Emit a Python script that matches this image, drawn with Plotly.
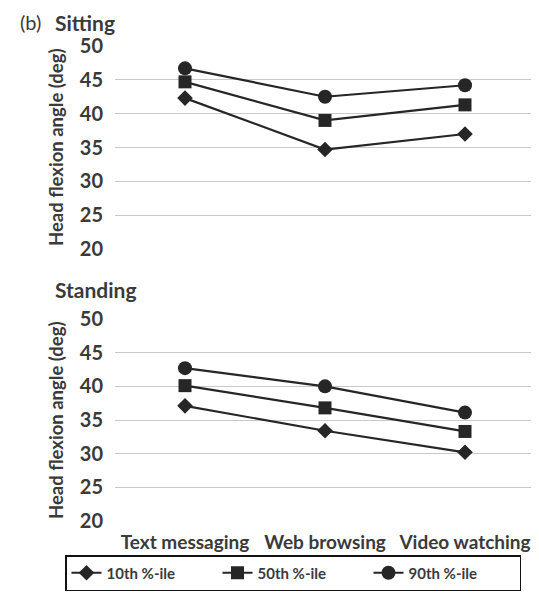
import plotly.graph_objects as go

categories = ["Text messaging", "Web browsing", "Video watching"]
series_names = ["10th %-ile", "50th %-ile", "90th %-ile"]
sitting_10 = [42.3, 34.7, 37.0]
sitting_50 = [44.7, 39.0, 41.3]
sitting_90 = [46.7, 42.5, 44.2]
standing_10 = [37.1, 33.4, 30.2]
standing_50 = [40.1, 36.8, 33.3]
standing_90 = [42.7, 40.0, 36.1]
y_ticks = [20, 25, 30, 35, 40, 45, 50]

symbols = ["diamond", "square", "circle"]
sizes = [12, 13, 14]
FONT = "Lato"
INK = "#262626"
TXT = "#3a3a3a"

# page body has an 8px margin: figure is drawn 8px right/down of the window corner
W, HT = 531, 584
OFF = 8
L, R = 115 - OFF, 4
PW = W - L - R
LEG_TOP = 555  # window px
H = LEG_TOP - OFF  # paper bottom (figure px); legend sits below it

def fx(xp):  # window pixel -> paper x
    return (xp - OFF - L) / PW
def fy(yp):  # window pixel -> paper y
    return (H - (yp - OFF)) / H

fig = go.Figure()
for panel, data in (("y", [sitting_10, sitting_50, sitting_90]),
                    ("y2", [standing_10, standing_50, standing_90])):
    for name, vals, sym, sz in zip(series_names, data, symbols, sizes):
        fig.add_trace(go.Scatter(
            x=categories, y=vals, name=name, mode="lines+markers",
            xaxis="x" if panel == "y" else "x2", yaxis=panel,
            line=dict(color=INK, width=2.2),
            marker=dict(symbol=sym, size=sz, color=INK),
            showlegend=(panel == "y2"),
        ))

yax = dict(range=[20, 50], tickvals=y_ticks, showgrid=True, gridcolor="#c9c9c9",
           gridwidth=1.3, zeroline=False, showline=False, ticks="",
           tickfont=dict(family=FONT, size=20, color=TXT, weight="bold"),
           ticklabelstandoff=11, fixedrange=True)
xax = dict(type="category", range=[-0.5, 2.5], showgrid=False, zeroline=False,
           showline=False, ticks="",
           tickfont=dict(family=FONT, size=19, color=TXT, weight="bold"))

fig.update_layout(
    width=W, height=HT,
    margin=dict(l=L, r=R, t=0, b=HT - H, autoexpand=False),
    paper_bgcolor="white", plot_bgcolor="white",
    yaxis=dict(domain=[fy(249), fy(46)], **yax),
    yaxis2=dict(domain=[fy(521), fy(319)], **yax),
    xaxis=dict(anchor="y", showticklabels=False, **xax),
    xaxis2=dict(anchor="y2", showticklabels=True, ticklabelstandoff=8, **xax),
    legend=dict(orientation="h", x=fx(65), xanchor="left", y=0, yanchor="top",
                bordercolor="#111111", borderwidth=1.5,
                entrywidth=106, entrywidthmode="pixels",
                font=dict(family=FONT, size=15, color=TXT, weight="bold"),
                traceorder="normal"),
    showlegend=True,
)

ann_font = dict(family=FONT, color=TXT)
specs = [
    ("(b)", 30, 8, "center", "top", 0, 20),
    ("<b>Sitting</b>", 53, 8, "left", "top", 0, 21),
    ("<b>Standing</b>", 53, 290, "left", "middle", 0, 21),
    ("<b>Head flexion angle (deg)</b>", 56, 147, "center", "middle", -90, 18.5),
    ("<b>Head flexion angle (deg)</b>", 56, 420, "center", "middle", -90, 18.5),
]
for text, xx, yy, xa, ya, ang, fs in specs:
    fig.add_annotation(text=text, x=fx(xx), y=fy(yy),
                       xref="paper", yref="paper", xanchor=xa, yanchor=ya,
                       textangle=ang, showarrow=False, font=dict(size=fs, **ann_font))

fig.write_html("out.html")
